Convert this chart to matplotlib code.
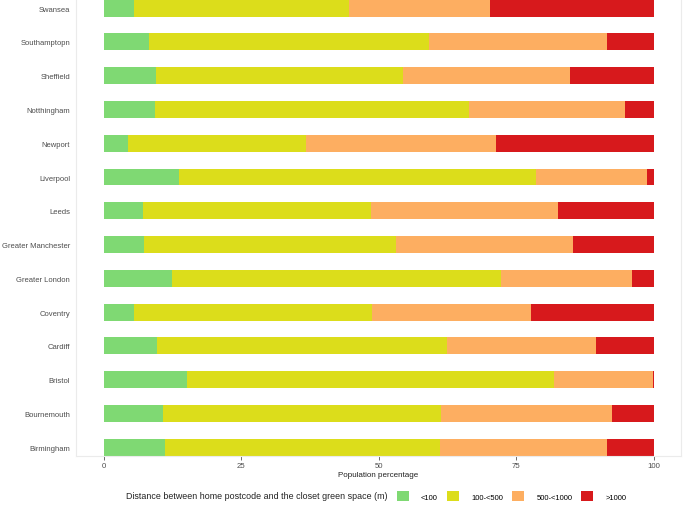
import matplotlib
matplotlib.use("Agg")
import matplotlib.pyplot as plt
import numpy as np

plt.rcParams['font.family'] = ['Liberation Sans', 'DejaVu Sans']

# cities, bottom to top
cities = ["Birmingham", "Bournemouth", "Bristol", "Cardiff", "Coventry",
          "Greater London", "Greater Manchester", "Leeds", "Liverpool",
          "Newport", "Notthingham", "Sheffield", "Southamptopn", "Swansea"]

# population percentage per distance band (m)
lt100 = [11.1, 10.9, 15.2, 9.8, 5.6, 12.4, 7.3, 7.1, 13.7, 4.4, 9.3, 9.6, 8.2, 5.5]
b100_500 = [50.0, 50.4, 66.7, 52.7, 43.3, 59.8, 45.8, 41.5, 65.0, 32.4, 57.1, 44.9, 51.0, 39.2]
b500_1000 = [30.4, 31.2, 18.0, 27.0, 28.9, 23.8, 32.2, 34.0, 20.2, 34.6, 28.4, 30.3, 32.3, 25.6]
gt1000 = [8.5, 7.5, 0.1, 10.5, 22.2, 4.0, 14.7, 17.4, 1.1, 28.6, 5.2, 15.2, 8.5, 29.7]

bands = ["<100", "100-<500", "500-<1000", ">1000"]
colors = ["#7fd973", "#dcdd1b", "#fdae61", "#d7191c"]

fig = plt.figure(figsize=(6.83, 5.06), dpi=100)
ax = fig.add_axes([76 / 683, 1 - 457 / 506, (681 - 76) / 683, 457 / 506])

y = np.arange(len(cities))
left = np.zeros(len(cities))
handles = []
for vals, c, name in zip([lt100, b100_500, b500_1000, gt1000], colors, bands):
    h = ax.barh(y, vals, left=left, height=0.5, color=c, label=name)
    handles.append(h)
    left += np.array(vals)

ax.set_xlim(-5, 105)
ax.set_ylim(-0.26, 13.27)
ax.set_xticks([0, 25, 50, 75, 100])
ax.set_xticklabels(["0", "25", "50", "75", "100"])
ax.set_yticks(y)
ax.set_yticklabels(cities)
ax.tick_params(axis='y', length=0, pad=4.3, labelsize=5.5, labelcolor='#4d4d4d')
ax.tick_params(axis='x', length=3, width=0.6, color='#555555', pad=1,
               labelsize=5.6, labelcolor='#4d4d4d')
for s in ax.spines.values():
    s.set_color('#ebebeb')
    s.set_linewidth(0.8)
ax.spines['top'].set_visible(False)
ax.set_xlabel("Population percentage", fontsize=5.8, color='#222222', labelpad=2)

fig.text(388 / 683, 1 - 497 / 506, "Distance between home postcode and the closet green space (m)",
         ha='right', va='center', fontsize=6.4, color='#222222')
fig.legend(handles=handles, labels=bands, loc='center left',
           bbox_to_anchor=(397 / 683, 1 - 497 / 506), ncol=4, frameon=False,
           fontsize=5.5, handlelength=1.55, handleheight=1.55, handletextpad=1.6,
           columnspacing=1.2, borderaxespad=0, borderpad=0)

fig.savefig("out.png", dpi=100)
